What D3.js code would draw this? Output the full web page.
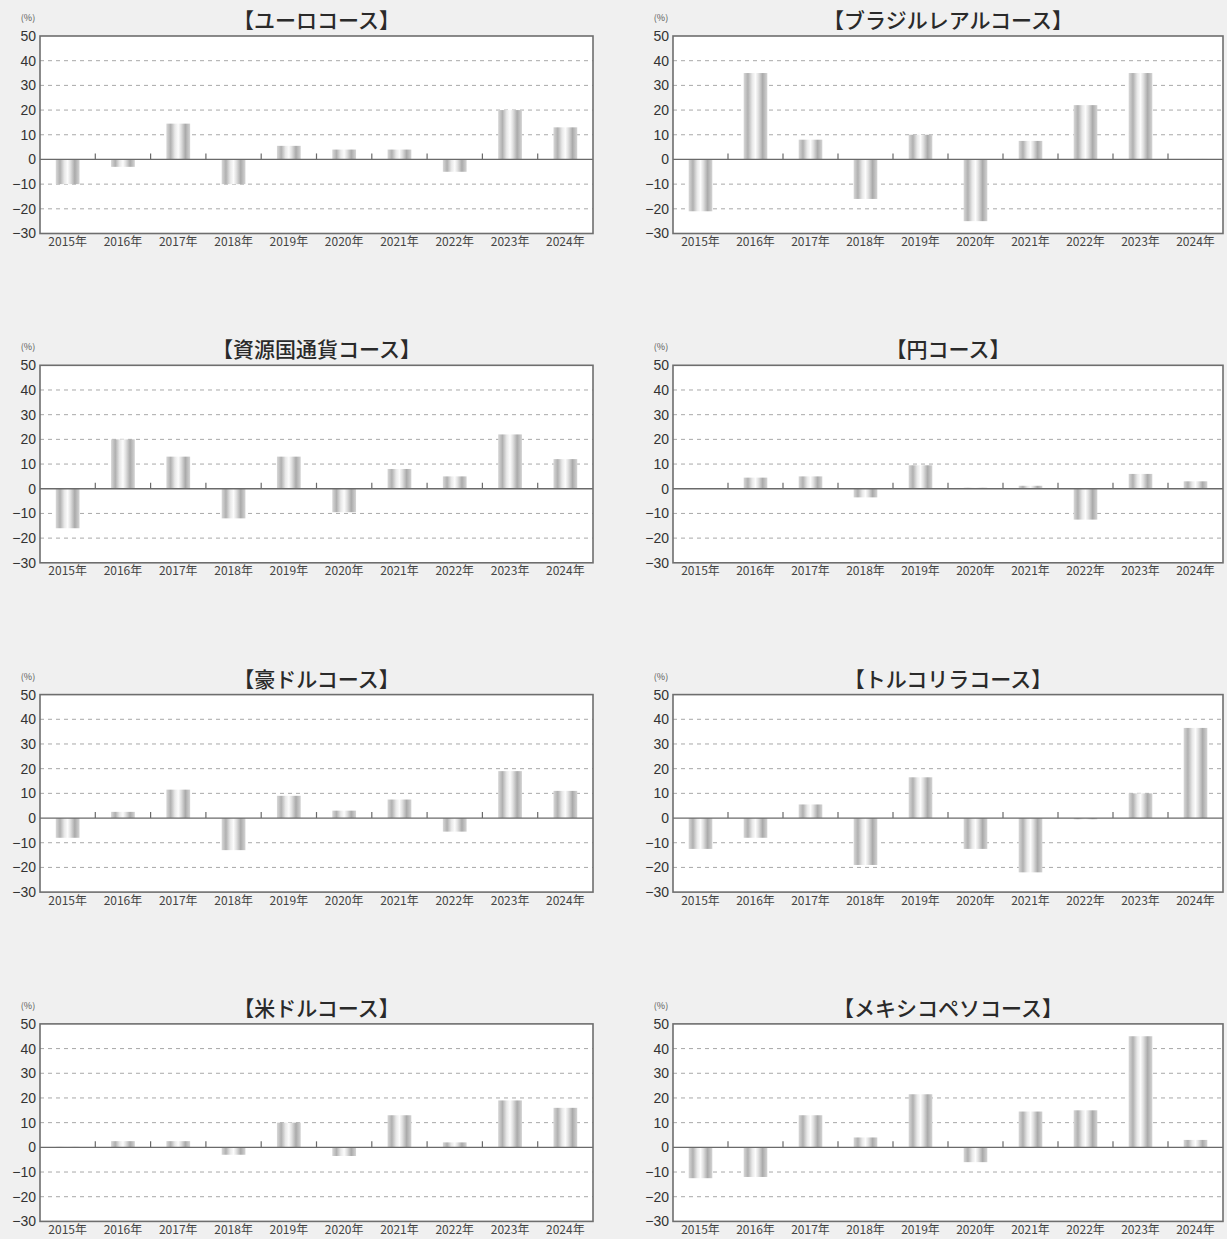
<!DOCTYPE html>
<html>
<head>
<meta charset="utf-8">
<script src="https://cdn.jsdelivr.net/npm/d3@7"></script>
<style>
  html, body { margin: 0; padding: 0; background: #f0f0f0; }
  svg { display: block; }
</style>
</head>
<body>
<svg id="chart" width="1227" height="1239"></svg>
<script>
// ---- data ----
const years = ["2015年","2016年","2017年","2018年","2019年","2020年","2021年","2022年","2023年","2024年"];
const yTicks = [50, 40, 30, 20, 10, 0, -10, -20, -30];
const titles = ["【ユーロコース】","【ブラジルレアルコース】","【資源国通貨コース】","【円コース】","【豪ドルコース】","【トルコリラコース】","【米ドルコース】","【メキシコペソコース】"];
const euro    = [-10, -3, 14.5, -10, 5.5, 4, 4, -5, 20, 13];
const brl     = [-21, 35, 8, -16, 10, -25, 7.5, 22, 35, 0.2];
const resource= [-16, 20, 13, -12, 13, -9.5, 8, 5, 22, 12];
const yen     = [0.2, 4.5, 5, -3.5, 9.5, 0.4, 1.2, -12.5, 6, 3];
const aud     = [-8, 2.5, 11.5, -13, 9, 3, 7.5, -5.5, 19, 11];
const tryl    = [-12.5, -8, 5.5, -19, 16.5, -12.5, -22, -0.5, 10, 36.5];
const usd     = [0.2, 2.5, 2.5, -3, 10, -3.5, 13, 2, 19, 16];
const mxn     = [-12.5, -12, 13, 4, 21.5, -6, 14.5, 15, 45, 3];
const series = [euro, brl, resource, yen, aud, tryl, usd, mxn];

// ---- layout ----
const svg = d3.select("#chart");
const defs = svg.append("defs");
const grad = defs.append("linearGradient").attr("id", "barGrad")
  .attr("x1", "0%").attr("x2", "100%").attr("y1", "0%").attr("y2", "0%");
[[0,"#d8d8d8"],[0.18,"#b0b0b0"],[0.36,"#e8e8e8"],[0.5,"#fcfcfc"],[0.62,"#e0e0e0"],[0.8,"#aaaaaa"],[1,"#d4d4d4"]]
  .forEach(([o,c]) => grad.append("stop").attr("offset", o).attr("stop-color", c));

const colsX = [[40, 593], [673, 1223]];
const rowTop0 = 36, rowStep = 329.3, plotH = 197.5;
const jp = "'Noto Sans CJK JP', 'Noto Sans', sans-serif";

series.forEach((vals, idx) => {
  const col = idx % 2, row = Math.floor(idx / 2);
  const [x0, x1] = colsX[col];
  const top = rowTop0 + row * rowStep, bottom = top + plotH;
  const g = svg.append("g");

  const x = d3.scaleBand().domain(years).range([x0, x1]).paddingInner(0).paddingOuter(0);
  const y = d3.scaleLinear().domain([-30, 50]).range([bottom, top]);

  g.append("rect").attr("x", x0).attr("y", top).attr("width", x1 - x0).attr("height", plotH)
    .attr("fill", "#ffffff");

  g.selectAll("line.grid").data(yTicks.filter(t => t !== 0 && t !== 50 && t !== -30)).join("line")
    .attr("x1", x0).attr("x2", x1).attr("y1", d => y(d)).attr("y2", d => y(d))
    .attr("stroke", "#a8a8a8").attr("stroke-width", 1).attr("stroke-dasharray", "4,4");

  const bw = x.bandwidth() * 0.43;
  g.selectAll("rect.bar").data(vals).join("rect")
    .attr("x", (d, i) => x(years[i]) + x.bandwidth() * 0.5 - bw / 2)
    .attr("width", bw)
    .attr("y", d => Math.min(y(d), y(0)))
    .attr("height", d => Math.abs(y(d) - y(0)))
    .attr("fill", "url(#barGrad)");

  g.append("line").attr("x1", x0).attr("x2", x1).attr("y1", y(0)).attr("y2", y(0))
    .attr("stroke", "#6a6a6a").attr("stroke-width", 1.3);

  g.selectAll("line.sep").data(years.slice(1)).join("line")
    .attr("x1", d => x(d)).attr("x2", d => x(d))
    .attr("y1", y(0)).attr("y2", y(0) - 6)
    .attr("stroke", "#6a6a6a").attr("stroke-width", 1.2);

  g.append("rect").attr("x", x0).attr("y", top).attr("width", x1 - x0).attr("height", plotH)
    .attr("fill", "none").attr("stroke", "#6e6e6e").attr("stroke-width", 1.6);

  const yAxis = d3.axisLeft(y).tickValues(yTicks).tickSize(0).tickPadding(4)
    .tickFormat(d => d < 0 ? "−" + Math.abs(d) : String(d));
  const ya = g.append("g").attr("transform", `translate(${x0},0)`).call(yAxis);
  ya.select(".domain").remove();
  ya.selectAll("text").style("font-size", "14px").style("fill", "#333")
    .style("font-family", "'Liberation Sans', Arial, sans-serif");

  const xAxis = d3.axisBottom(x).tickSize(0).tickPadding(4);
  const xa = g.append("g").attr("transform", `translate(0,${bottom})`).call(xAxis);
  xa.select(".domain").remove();
  xa.selectAll("text").style("font-size", "12px").style("fill", "#444")
    .style("font-family", jp);

  g.append("text").attr("x", x0 - 12).attr("y", top - 15).attr("text-anchor", "middle")
    .style("font-size", "9px").style("fill", "#555").style("font-family", jp).text("(%)");

  g.append("text").attr("x", (x0 + x1) / 2).attr("y", top - 8).attr("text-anchor", "middle")
    .style("font-size", "21px").style("font-weight", 500).style("fill", "#2a2a2a")
    .style("font-family", jp)
    .text(titles[idx]);
});
</script>
</body>
</html>
